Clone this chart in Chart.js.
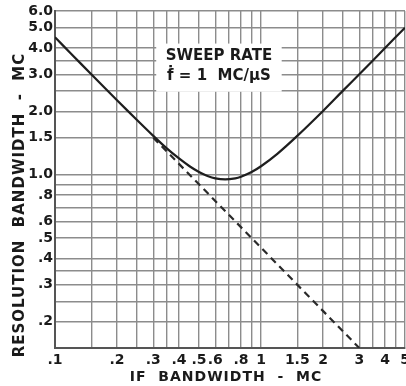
<!DOCTYPE html>
<html>
<head>
<meta charset="utf-8">
<script src="https://cdn.jsdelivr.net/npm/chart.js@4"></script>
<style>
  html,body{margin:0;padding:0;background:#fff;}
  #wrap{width:406px;height:386px;}
</style>
</head>
<body>
<div id="wrap"><canvas id="c"></canvas></div>
<script>
// solid curve: resolution bandwidth vs IF bandwidth
var ifBw      = [0.1, 0.12, 0.15, 0.2, 0.25, 0.3, 0.35, 0.4, 0.45, 0.5, 0.55, 0.6, 0.67, 0.75, 0.8, 0.9, 1.0, 1.2, 1.5, 2, 2.5, 3, 4, 5]
var resBw     = [4.5, 3.75, 3.0, 2.26, 1.82, 1.53, 1.33, 1.194, 1.097, 1.030, 0.986, 0.960, 0.949, 0.960, 0.978, 1.030, 1.097, 1.257, 1.53, 2.01, 2.51, 3.0, 4.0, 5.0]
// dashed asymptote
var dashX     = [0.3, 3.0]
var dashY     = [1.5, 0.15]

// grid lines and labels
var xGrid     = [0.1, 0.15, 0.2, 0.25, 0.3, 0.35, 0.4, 0.5, 0.6, 0.7, 0.8, 0.9, 1, 1.5, 2, 2.5, 3, 3.5, 4, 4.5, 5]
var xLabels   = {0.1:'.1', 0.2:'.2', 0.3:'.3', 0.4:'.4', 0.5:'.5', 0.6:'.6', 0.8:'.8', 1:'1', 1.5:'1.5', 2:'2', 3:'3', 4:'4', 5:'5'}
var yGrid     = [0.15, 0.2, 0.25, 0.3, 0.35, 0.4, 0.5, 0.6, 0.7, 0.8, 0.9, 1, 1.5, 2, 2.5, 3, 3.5, 4, 5, 6]
var yLabels   = {0.2:'.2', 0.3:'.3', 0.4:'.4', 0.5:'.5', 0.6:'.6', 0.8:'.8', 1:'1.0', 1.5:'1.5', 2:'2.0', 3:'3.0', 4:'4.0', 5:'5.0', 6:'6.0'}

var xTitle    = 'IF  BANDWIDTH  -  MC'
var yTitle    = 'RESOLUTION  BANDWIDTH  -  MC'
var noteLines = ['SWEEP RATE', '\u1E1F = 1  MC/\u00B5S']

function pts(xs, ys){
    var out=[]
    for(var i=0;i<xs.length;i++) out.push({x:xs[i], y:ys[i]})
    return out
}

var textPlugin = {
    id:'texts',
    beforeDatasetsDraw:function(chart){
        var ctx=chart.ctx
        var xs=chart.scales.x, ys=chart.scales.y
        // white box behind the note
        var bx=xs.getPixelForValue(0.31), bx2=xs.getPixelForValue(1.26)
        var by=ys.getPixelForValue(4.2), by2=ys.getPixelForValue(2.48)
        ctx.save()
        ctx.fillStyle='#fff'
        ctx.fillRect(bx, by, bx2-bx, by2-by)
        ctx.fillStyle='#1a1a1a'
        ctx.font='bold 15px "DejaVu Sans"'
        ctx.textAlign='center'
        ctx.textBaseline='middle'
        var cx=(bx+bx2)/2
        ctx.fillText(noteLines[0], cx, ys.getPixelForValue(3.65))
        ctx.fillText(noteLines[1], cx, ys.getPixelForValue(2.93))
        ctx.restore()
    },
    afterDraw:function(chart){
        var ctx=chart.ctx
        ctx.save()
        ctx.fillStyle='#1a1a1a'
        ctx.textAlign='center'
        ctx.textBaseline='middle'
        ctx.font='bold 14px "DejaVu Sans"'
        ctx.letterSpacing='1px'
        ctx.fillText(xTitle, 226, 377)
        ctx.font='bold 15px "DejaVu Sans"'
        ctx.translate(20, 205)
        ctx.rotate(-Math.PI/2)
        ctx.fillText(yTitle, 0, 0)
        ctx.restore()
    }
}

new Chart(document.getElementById('c'), {
    type:'line',
    data:{
        datasets:[
            {data:pts(ifBw,resBw), borderColor:'#1e1e1e', borderWidth:2.2, pointRadius:0, tension:0.3},
            {data:pts(dashX,dashY), borderColor:'#2a2a2a', borderWidth:2.2, borderDash:[7,5], pointRadius:0}
        ]
    },
    options:{
        responsive:true,
        maintainAspectRatio:false,
        animation:false,
        layout:{padding:{top:11, right:1, left:0, bottom:0}},
        plugins:{legend:{display:false}, tooltip:{enabled:false}},
        scales:{
            x:{
                type:'logarithmic', min:0.1, max:5,
                afterBuildTicks:function(s){ s.ticks=xGrid.map(function(v){return {value:v}}) },
                afterFit:function(s){ s.height=38; s.paddingLeft=0; s.paddingRight=0 },
                grid:{color:'#8c8c8c', lineWidth:1.4, drawTicks:false},
                border:{color:'#555', width:2},
                ticks:{autoSkip:false, maxRotation:0, minRotation:0, padding:4, color:'#1a1a1a',
                    font:{family:'DejaVu Sans', weight:'bold', size:14},
                    callback:function(v){ return xLabels[v]||'' }}
            },
            y:{
                type:'logarithmic', min:0.15, max:6,
                afterBuildTicks:function(s){ s.ticks=yGrid.map(function(v){return {value:v}}) },
                afterFit:function(s){ s.width=55; s.paddingTop=0; s.paddingBottom=0 },
                grid:{color:'#8c8c8c', lineWidth:1.4, drawTicks:false},
                border:{color:'#555', width:2},
                ticks:{autoSkip:false, padding:2, color:'#1a1a1a',
                    font:{family:'DejaVu Sans', weight:'bold', size:14},
                    callback:function(v){ return yLabels[v]||'' }}
            }
        }
    },
    plugins:[textPlugin]
})
</script>
</body>
</html>
